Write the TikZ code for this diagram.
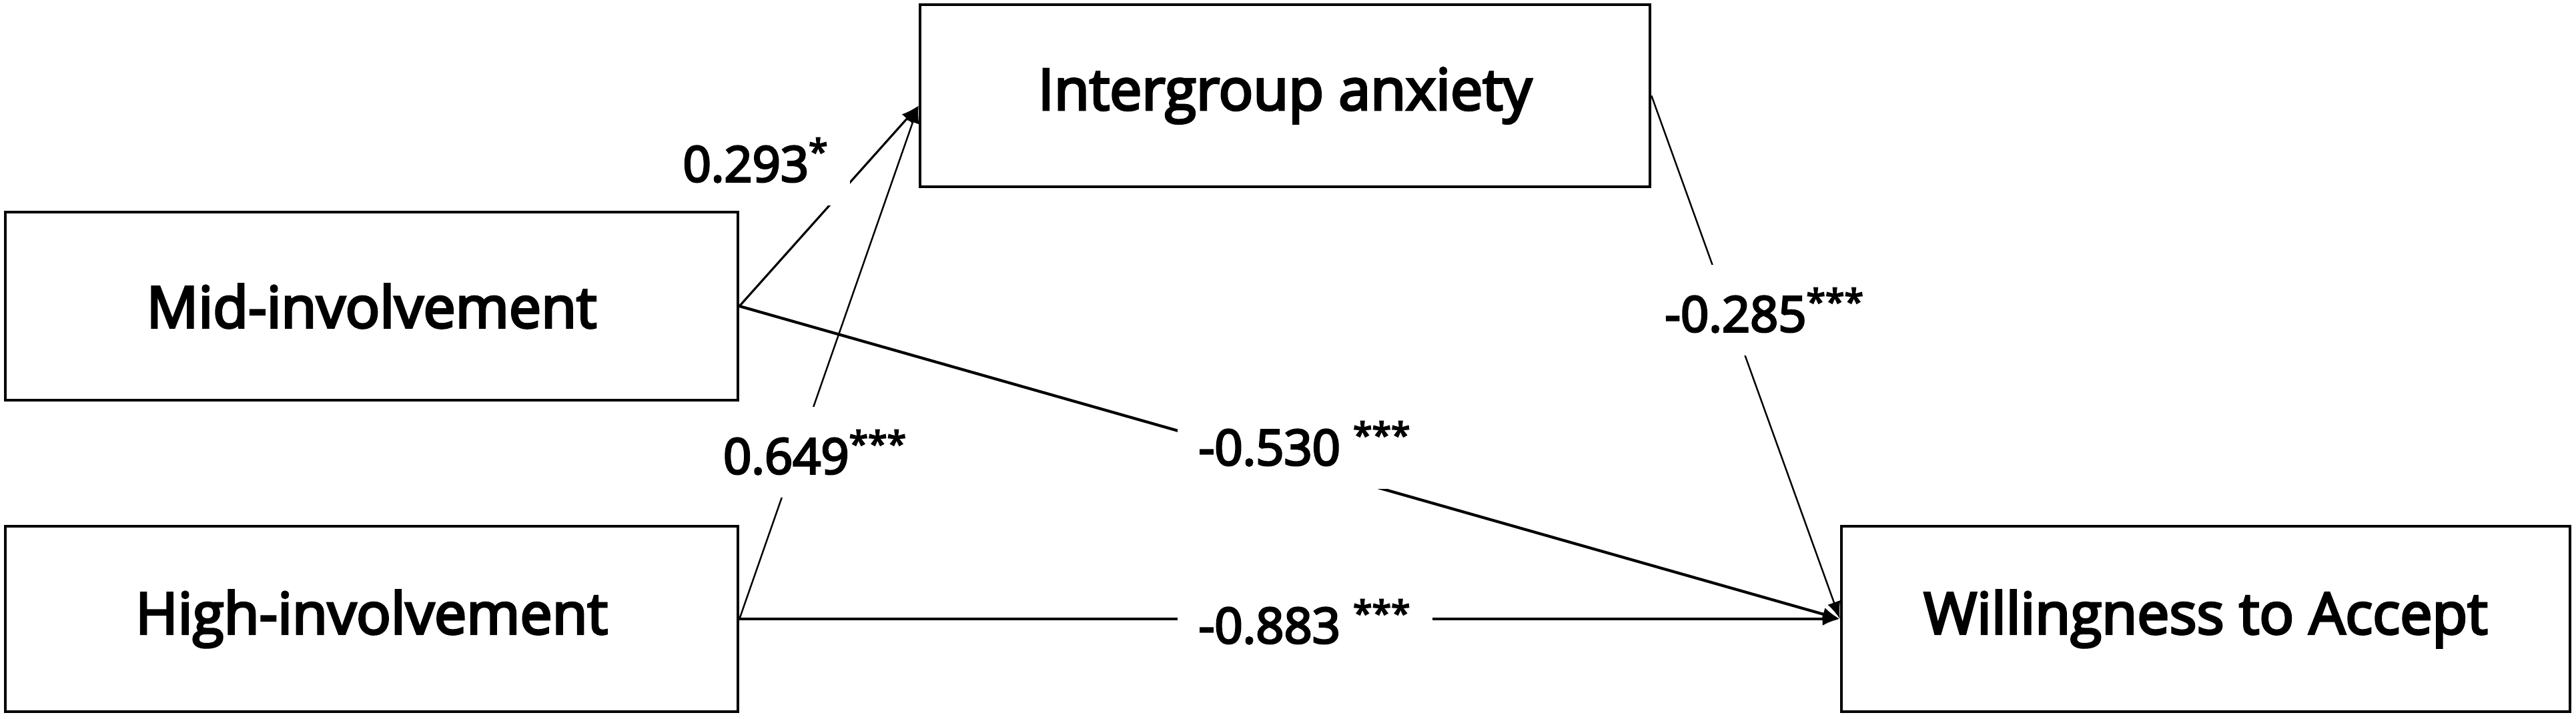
\documentclass[tikz,border=0pt]{standalone}
\usepackage{fontspec}
\setmainfont[FakeBold=4]{Open Sans}
\usetikzlibrary{arrows.meta,calc}
\begin{document}
\begin{tikzpicture}[x=1cm,y=1cm,
  box/.style={draw=black, line width=1.3pt, inner sep=0pt, font=\fontsize{24.5}{28}\selectfont},
  lab/.style={fill=white, inner xsep=0.32cm, inner ysep=0.35cm, font=\fontsize{21}{24}\selectfont},
  conn/.style={-{Latex[length=0.26cm,width=0.2cm]}}]
\useasboundingbox (0,0) rectangle (38.61,10.78);
\node[box, minimum width=10.94cm, minimum height=2.73cm] (ia) at (19.26,9.345) {Intergroup anxiety};
\node[box, minimum width=10.98cm, minimum height=2.82cm] (mid) at (5.57,6.19) {Mid-involvement};
\node[box, minimum width=10.98cm, minimum height=2.78cm] (high) at (5.57,1.50) {High-involvement};
\node[box, minimum width=10.92cm, minimum height=2.78cm] (wta) at (33.06,1.50) {Willingness to Accept};
\draw[conn, line width=0.9pt] (mid.east) -- ([yshift=-0.15cm]ia.west);
\draw[conn, line width=0.7pt] (high.east) -- ([yshift=-0.15cm]ia.west);
\draw[conn, line width=1.2pt] (mid.east) -- (wta.west);
\draw[conn, line width=1.3pt] (high.east) -- (wta.west);
\draw[conn, line width=0.7pt] (ia.east) -- (wta.west);
\node[lab] (l1) at (11.33,8.38) {0.293\textsuperscript{*}};
\node[lab] (l2) at (12.22,4.00) {0.649\textsuperscript{***}};
\node[lab] (l3) at (19.56,4.13) {-0.530 \textsuperscript{***}};
\node[lab] (l4) at (19.56,1.46) {-0.883 \textsuperscript{***}};
\node[lab] (l5) at (26.45,6.13) {-0.285\textsuperscript{***}};
\end{tikzpicture}
\end{document}
